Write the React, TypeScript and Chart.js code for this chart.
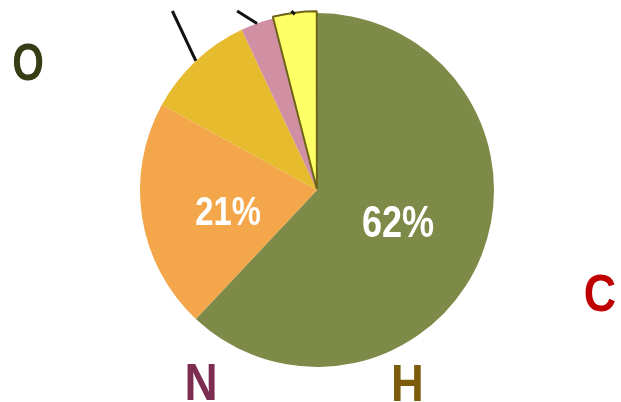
import React, { useEffect, useRef } from "react";
import { Chart, registerables } from "chart.js";

Chart.register(...registerables);

// ---- data ----
const sliceNames = ["62%", "21%", "10%", "3%", "4%"];
const sliceValues = [62, 21, 10, 3, 4];
const sliceColors = ["#7E8B48", "#F3A64A", "#E6BB2E", "#D18FA4", "#FFFF66"];
const sliceBorderColors = ["#7E8B48", "#F3A64A", "#E6BB2E", "#D18FA4", "#6E6418"];
const sliceBorderWidths = [0, 0, 0, 0, 2];
const sliceOffsets = [0, 0, 0, 0, 4];
const shownPercent = ["62%", "21%", "", "", ""];

const cornerLetters = ["O", "C", "N", "H"];
const cornerColors = ["#343D14", "#C00000", "#7D2D50", "#7B5C0A"];

// ---- decoration layout (styles, not data) ----
const pctPos = [
  { fx: 0.458, fy: 0.266, size: 44 },
  { fx: -0.503, fy: 0.198, size: 40 },
];
const pctScaleX = 0.82;
const letterPos = [
  { x: 28, y: 80, sx: 0.8 },
  { x: 600, y: 311, sx: 0.88 },
  { x: 201, y: 400, sx: 0.9 },
  { x: 407.5, y: 401, sx: 0.89 },
];
const leaderSlopes: Record<number, number> = { 2: 0.47, 3: 1.6, 4: 1.0 };
const leaderTopY = 11;

const overlayPlugin = {
  id: "overlay",
  afterDatasetsDraw(chart: any) {
    const ctx = chart.ctx as CanvasRenderingContext2D;
    const meta = chart.getDatasetMeta(0);
    const arcs = meta.data as any[];
    const cx = arcs[0].x;
    const cy = arcs[0].y;
    const R = arcs[0].outerRadius;

    // leader lines
    ctx.save();
    ctx.strokeStyle = "#111111";
    ctx.lineWidth = 3;
    ctx.lineCap = "butt";
    Object.keys(leaderSlopes).forEach((k) => {
      const i = Number(k);
      const a = arcs[i];
      const mid = (a.startAngle + a.endAngle) / 2;
      const px = a.x + Math.cos(mid) * a.outerRadius;
      const py = a.y + Math.sin(mid) * a.outerRadius;
      const ex = px - (py - leaderTopY) * leaderSlopes[i];
      ctx.beginPath();
      ctx.moveTo(px, py);
      ctx.lineTo(ex, leaderTopY);
      ctx.stroke();
    });
    ctx.restore();

    // percent labels
    pctPos.forEach((p, i) => {
      ctx.save();
      ctx.fillStyle = "#FFFFFF";
      ctx.textAlign = "center";
      ctx.textBaseline = "alphabetic";
      ctx.font = `bold ${p.size}px 'Liberation Sans', Arial, sans-serif`;
      ctx.translate(cx + p.fx * R, cy + p.fy * R);
      ctx.scale(pctScaleX, 1);
      ctx.fillText(shownPercent[i], 0, 0);
      ctx.restore();
    });

    // corner letters
    cornerLetters.forEach((t, i) => {
      const lp = letterPos[i];
      ctx.save();
      ctx.textAlign = "center";
      ctx.textBaseline = "alphabetic";
      ctx.font = "bold 51px 'Liberation Sans', Arial, sans-serif";
      ctx.fillStyle = cornerColors[i];
      ctx.translate(lp.x, lp.y);
      ctx.scale(lp.sx, 1);
      ctx.fillText(t, 0, 0);
      ctx.restore();
    });
  },
};

export default function App() {
  const ref = useRef<HTMLCanvasElement>(null);
  useEffect(() => {
    if (!ref.current) return;
    const chart = new Chart(ref.current, {
      type: "pie",
      data: {
        labels: sliceNames,
        datasets: [
          {
            data: sliceValues,
            backgroundColor: sliceColors,
            borderColor: sliceBorderColors,
            borderWidth: sliceBorderWidths,
            offset: sliceOffsets,
          },
        ],
      },
      options: {
        responsive: false,
        animation: false,
        layout: { padding: { top: 10, bottom: 32, left: 137, right: 124 } },
        plugins: {
          legend: { display: false },
          tooltip: { enabled: false },
          title: { display: false },
        },
      },
      plugins: [overlayPlugin],
    });
    return () => chart.destroy();
  }, []);
  return (
    <div style={{ position: "fixed", left: 0, top: 0, width: 621, height: 402, background: "#fff" }}>
      <canvas ref={ref} width={621} height={402} />
    </div>
  );
}
